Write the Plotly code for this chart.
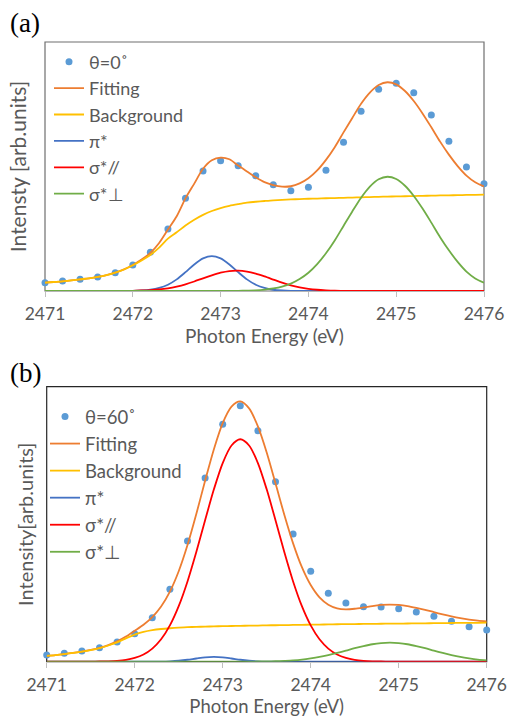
import plotly.graph_objects as go

# ---------------- data ----------------
energy_pts = [2471.0, 2471.2, 2471.4, 2471.6, 2471.8, 2472.0, 2472.2, 2472.4, 2472.6,
              2472.8, 2473.0, 2473.2, 2473.4, 2473.6, 2473.8, 2474.0, 2474.2, 2474.4,
              2474.6, 2474.8, 2475.0, 2475.2, 2475.4, 2475.6, 2475.8, 2476.0]

energy_fit = [2471.0, 2471.1, 2471.2, 2471.3, 2471.4, 2471.5, 2471.6, 2471.7, 2471.8, 2471.9,
              2472.0, 2472.1, 2472.2, 2472.3, 2472.4, 2472.5, 2472.6, 2472.7, 2472.8, 2472.9,
              2473.0, 2473.1, 2473.2, 2473.3, 2473.4, 2473.5, 2473.6, 2473.7, 2473.8, 2473.9,
              2474.0, 2474.1, 2474.2, 2474.3, 2474.4, 2474.5, 2474.6, 2474.7, 2474.8, 2474.9,
              2475.0, 2475.1, 2475.2, 2475.3, 2475.4, 2475.5, 2475.6, 2475.7, 2475.8, 2475.9,
              2476.0]

# panel (a): theta = 0 deg
data_a = [0.086, 0.103, 0.120, 0.144, 0.189, 0.268, 0.399, 0.639, 0.956, 1.237, 1.343, 1.292,
          1.189, 1.096, 1.034, 1.069, 1.244, 1.533, 1.853, 2.079, 2.141, 2.044, 1.814, 1.543,
          1.278, 1.106]
fit_a = [0.086, 0.093, 0.100, 0.109, 0.120, 0.131, 0.145, 0.164, 0.190, 0.223,
         0.268, 0.324, 0.393, 0.495, 0.633, 0.771, 0.955, 1.107, 1.260, 1.347,
         1.375, 1.358, 1.293, 1.232, 1.172, 1.122, 1.092, 1.076, 1.080, 1.109,
         1.162, 1.243, 1.352, 1.483, 1.635, 1.784, 1.930, 2.045, 2.123, 2.152,
         2.130, 2.062, 1.959, 1.831, 1.688, 1.540, 1.406, 1.288, 1.190, 1.121,
         1.078]
bg_a = [0.086, 0.093, 0.100, 0.109, 0.120, 0.131, 0.145, 0.164, 0.190, 0.222,
        0.265, 0.315, 0.372, 0.448, 0.540, 0.605, 0.675, 0.735, 0.785, 0.825,
        0.855, 0.878, 0.895, 0.910, 0.920, 0.928, 0.935, 0.940, 0.944, 0.948,
        0.951, 0.953, 0.956, 0.958, 0.961, 0.963, 0.966, 0.968, 0.971, 0.973,
        0.975, 0.977, 0.979, 0.981, 0.983, 0.985, 0.986, 0.988, 0.990, 0.991,
        0.993]
pi_a = [0, 0, 0, 0, 0, 0, 0, 0, 0, 0,
        0.001, 0.005, 0.013, 0.031, 0.065, 0.120, 0.194, 0.274, 0.336, 0.360,
        0.336, 0.274, 0.194, 0.120, 0.065, 0.031, 0.013, 0.005, 0.001, 0,
        0, 0, 0, 0, 0, 0, 0, 0, 0, 0,
        0, 0, 0, 0, 0, 0, 0, 0, 0, 0,
        0]
spar_a = [0, 0, 0, 0, 0, 0, 0, 0, 0, 0.001,
          0.002, 0.005, 0.009, 0.016, 0.028, 0.046, 0.069, 0.098, 0.131, 0.162,
          0.189, 0.206, 0.210, 0.200, 0.179, 0.150, 0.118, 0.086, 0.059, 0.038,
          0.023, 0.013, 0.007, 0.003, 0.002, 0.001, 0, 0, 0, 0,
          0, 0, 0, 0, 0, 0, 0, 0, 0, 0,
          0]
sperp_a = [0, 0, 0, 0, 0, 0, 0, 0, 0, 0,
           0, 0, 0, 0, 0, 0, 0, 0, 0, 0,
           0.0, 0.001, 0.002, 0.004, 0.007, 0.014, 0.026, 0.045, 0.076, 0.123,
           0.188, 0.277, 0.389, 0.521, 0.671, 0.820, 0.961, 1.076, 1.152, 1.178,
           1.155, 1.085, 0.980, 0.850, 0.705, 0.555, 0.420, 0.300, 0.200, 0.130,
           0.085]

# panel (b): theta = 60 deg
data_b = [0.069, 0.087, 0.110, 0.144, 0.203, 0.289, 0.454, 0.746, 1.244, 1.894, 2.447, 2.639,
          2.381, 1.856, 1.316, 0.932, 0.705, 0.605, 0.567, 0.564, 0.546, 0.512, 0.468, 0.416,
          0.361, 0.327]
fit_b = [0.060, 0.068, 0.078, 0.090, 0.104, 0.121, 0.142, 0.171, 0.209, 0.259,
         0.319, 0.381, 0.460, 0.569, 0.723, 0.933, 1.203, 1.522, 1.865, 2.191,
         2.460, 2.630, 2.683, 2.611, 2.426, 2.157, 1.839, 1.515, 1.220, 0.974,
         0.790, 0.663, 0.587, 0.550, 0.540, 0.546, 0.559, 0.574, 0.585, 0.589,
         0.585, 0.574, 0.556, 0.535, 0.511, 0.488, 0.467, 0.449, 0.434, 0.423,
         0.416]
bg_b = [0.060, 0.068, 0.078, 0.090, 0.104, 0.120, 0.140, 0.167, 0.200, 0.240,
        0.280, 0.307, 0.325, 0.337, 0.345, 0.351, 0.356, 0.359, 0.362, 0.364,
        0.367, 0.368, 0.370, 0.371, 0.372, 0.375, 0.376, 0.377, 0.379, 0.380,
        0.382, 0.383, 0.384, 0.386, 0.387, 0.388, 0.389, 0.390, 0.391, 0.392,
        0.393, 0.394, 0.395, 0.396, 0.397, 0.398, 0.399, 0.400, 0.400, 0.401,
        0.402]
pi_b = [0, 0, 0, 0, 0, 0, 0, 0, 0, 0,
        0, 0, 0, 0.001, 0.004, 0.010, 0.020, 0.033, 0.045, 0.050,
        0.045, 0.033, 0.020, 0.010, 0.004, 0.001, 0, 0, 0, 0,
        0, 0, 0, 0, 0, 0, 0, 0, 0, 0,
        0, 0, 0, 0, 0, 0, 0, 0, 0, 0,
        0]
spar_b = [0, 0, 0, 0, 0, 0.001, 0.002, 0.004, 0.009, 0.019,
          0.039, 0.074, 0.135, 0.231, 0.374, 0.572, 0.827, 1.130, 1.458, 1.777,
          2.048, 2.229, 2.293, 2.229, 2.048, 1.777, 1.458, 1.130, 0.827, 0.572,
          0.374, 0.231, 0.135, 0.074, 0.039, 0.019, 0.009, 0.004, 0.002, 0.001,
          0, 0, 0, 0, 0, 0, 0, 0, 0, 0,
          0]
sperp_b = [0, 0, 0, 0, 0, 0, 0, 0, 0, 0,
           0, 0, 0, 0, 0, 0, 0, 0, 0, 0,
           0, 0, 0.0004, 0.001, 0.002, 0.003, 0.005, 0.009, 0.014, 0.022,
           0.034, 0.049, 0.068, 0.090, 0.114, 0.139, 0.161, 0.180, 0.192, 0.196,
           0.192, 0.180, 0.161, 0.139, 0.114, 0.090, 0.068, 0.049, 0.034, 0.022,
           0.014]

x_ticks = [2471, 2472, 2473, 2474, 2475, 2476]
labels_a = ["θ=0˚", "Fitting", "Background", "π*", "σ*//", "σ*⊥"]
labels_b = ["θ=60˚", "Fitting", "Background", "π*", "σ*//", "σ*⊥"]

# ---------------- style ----------------
W, H = 510, 717
FONT = "Lato, 'Open Sans', sans-serif"
GREY = "#595959"
C_DOT = "#5b9bd5"
C_FIT = "#ed7d31"
C_BG = "#ffc000"
C_PI = "#4472c4"
C_SPAR = "#ff0000"
C_SPERP = "#70ad47"
LW = 1.8

def px_x(p):
    return p / W

def px_y(p):
    return 1 - p / H

fig = go.Figure()

def add_panel(xa, ya, legend, labels, dots, fit, bg, pi, spar, sperp):
    fig.add_trace(go.Scatter(x=energy_pts, y=dots, mode="markers", name=labels[0],
                             marker=dict(color=C_DOT, size=7), xaxis=xa, yaxis=ya,
                             legend=legend, cliponaxis=False))
    series = [(fit, labels[1], C_FIT), (bg, labels[2], C_BG), (pi, labels[3], C_PI),
              (spar, labels[4], C_SPAR), (sperp, labels[5], C_SPERP)]
    for vals, name, col in series:
        fig.add_trace(go.Scatter(x=energy_fit, y=vals, mode="lines", name=name,
                                 line=dict(color=col, width=LW, shape="spline", smoothing=0.8),
                                 xaxis=xa, yaxis=ya, legend=legend, cliponaxis=False))

add_panel("x", "y", "legend", labels_a, data_a, fit_a, bg_a, pi_a, spar_a, sperp_a)
add_panel("x2", "y2", "legend2", labels_b, data_b, fit_b, bg_b, pi_b, spar_b, sperp_b)

# panel geometry (pixels)
A = dict(l=45, r=484, t=42, b=291)
B = dict(l=46.7, r=486.7, t=386.7, b=661.7)

xcommon = dict(range=[2471, 2476], tickvals=x_ticks, ticks="outside", ticklen=5,
               tickcolor="#bfbfbf", showgrid=False, zeroline=False, showline=False,
               ticklabelstandoff=2, ticklabeloverflow="allow",
               tickfont=dict(family=FONT, size=17.5, color=GREY), automargin=False)
ycommon = dict(showticklabels=False, ticks="", showgrid=False, zeroline=False,
               showline=False, automargin=False)

fig.update_layout(
    width=W, height=H,
    margin=dict(l=0, r=0, t=0, b=0),
    paper_bgcolor="white", plot_bgcolor="white",
    font=dict(family=FONT, color=GREY),
    xaxis=dict(domain=[px_x(A["l"]), px_x(A["r"])], anchor="y",
               title=dict(text="Photon Energy (eV)", font=dict(family=FONT, size=19, color=GREY),
                          standoff=5),
               **xcommon),
    yaxis=dict(domain=[px_y(A["b"]), px_y(A["t"])], anchor="x", range=[0, 2.567],
               title=dict(text="Intensty [arb.units]", font=dict(family=FONT, size=21, color=GREY),
                          standoff=11),
               **ycommon),
    xaxis2=dict(domain=[px_x(B["l"]), px_x(B["r"])], anchor="y2",
                title=dict(text="Photon Energy (eV)", font=dict(family=FONT, size=18.5, color=GREY),
                           standoff=4),
                **xcommon),
    yaxis2=dict(domain=[px_y(B["b"]), px_y(B["t"])], anchor="x2", range=[0, 2.835],
                title=dict(text="Intensity[arb.units]", font=dict(family=FONT, size=20, color=GREY),
                           standoff=6),
                **ycommon),
    legend=dict(x=px_x(49), y=px_y(43.5), xanchor="left", yanchor="top",
                bgcolor="rgba(0,0,0,0)", font=dict(family=FONT, size=18, color=GREY),
                tracegroupgap=0, itemwidth=30),
    legend2=dict(x=px_x(45), y=px_y(398), xanchor="left", yanchor="top",
                 bgcolor="rgba(0,0,0,0)", font=dict(family=FONT, size=18.5, color=GREY),
                 tracegroupgap=0, itemwidth=30),
    showlegend=True,
)

# plot frames
fig.add_shape(type="rect", xref="paper", yref="paper",
              x0=px_x(A["l"]), x1=px_x(A["r"]), y0=px_y(A["b"]), y1=px_y(A["t"]),
              line=dict(color="#6f6f6f", width=1.2), layer="below")
fig.add_shape(type="rect", xref="paper", yref="paper",
              x0=px_x(B["l"]), x1=px_x(B["r"]), y0=px_y(B["b"]), y1=px_y(B["t"]),
              line=dict(color="#262626", width=1.2), layer="below")

# panel labels
fig.add_annotation(text="(a)", x=px_x(8), y=px_y(23), xref="paper", yref="paper",
                   xanchor="left", yanchor="middle", showarrow=False,
                   font=dict(family="Liberation Serif, serif", size=27, color="black"))
fig.add_annotation(text="(b)", x=px_x(8), y=px_y(373), xref="paper", yref="paper",
                   xanchor="left", yanchor="middle", showarrow=False,
                   font=dict(family="Liberation Serif, serif", size=27, color="black"))

fig.write_html("out.html", config={"displayModeBar": False},
               post_script="document.body.style.margin='0px';")
